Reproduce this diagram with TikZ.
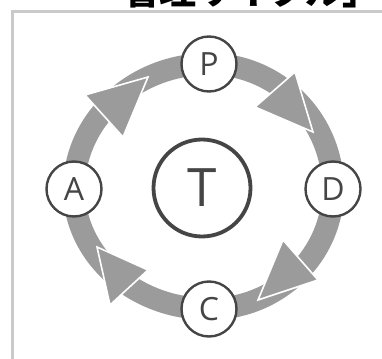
\documentclass[tikz,border=0pt]{standalone}
\usepackage{fontspec}
\usetikzlibrary{backgrounds}
\newfontfamily\lf{Open Sans}
\newfontfamily\cjk{Noto Sans CJK JP}
\definecolor{ringgray}{HTML}{9B9B9B}
\definecolor{inkgray}{HTML}{454545}
\definecolor{framegray}{HTML}{CACACA}
\tikzset{
  stage/.style={circle, draw=inkgray, line width=2.4pt, fill=white, minimum size=55pt, inner sep=0pt,
    text=inkgray, font=\lf\fontsize{32}{32}\selectfont},
  core/.style={circle, draw=inkgray, line width=3.8pt, fill=white, minimum size=97pt, inner sep=0pt,
    text=inkgray, font=\lf\fontsize{53}{53}\selectfont},
  shaft/.style={draw=ringgray, line width=22pt},
  headtri/.style={fill=ringgray, draw=white, line width=1.6pt, line join=miter},
  frameline/.style={draw=framegray, line width=3pt},
}
\begin{document}
\begin{tikzpicture}[x=1pt,y=-1pt]
\useasboundingbox (0,0) rectangle (382,358);
\begin{scope}
  \clip (0,0) rectangle (382,10);
  \node[anchor=base west, inner sep=0pt, font=\cjk\bfseries\fontsize{37}{37}\selectfont] (title) at (122,4.8) {管理サイクル」};
\end{scope}
\draw[frameline] (12.5,360) -- (12.5,11.5) -- (384,11.5);

\node[stage] (A) at (74,189) {A};
\node[stage] (P) at (209,64) {P};
\node[stage] (D) at (333,189) {D};
\node[stage] (C) at (209,309) {C};
\node[core] (T) at (202,188) {T};

\begin{scope}[on background layer]
  \fill[white] (0,0) rectangle (382,358);
  \draw[shaft] (A.center) arc[start angle=180, end angle=270, x radius=135, y radius=125];
  \draw[shaft] (P.center) arc[start angle=270, end angle=360, x radius=124, y radius=125];
  \draw[shaft] (D.center) arc[start angle=0, end angle=90, x radius=124, y radius=120];
  \draw[shaft] (C.center) arc[start angle=90, end angle=180, x radius=135, y radius=120];
  \filldraw[headtri] (85,95) -- (148,77) -- (123,137) -- cycle;
  \filldraw[headtri] (255,107) -- (295,72) -- (313,132) -- cycle;
  \filldraw[headtri] (283,240) -- (318,280) -- (258,300) -- cycle;
  \filldraw[headtri] (148,270) -- (110,305) -- (97,247) -- cycle;
\end{scope}
\end{tikzpicture}
\end{document}
